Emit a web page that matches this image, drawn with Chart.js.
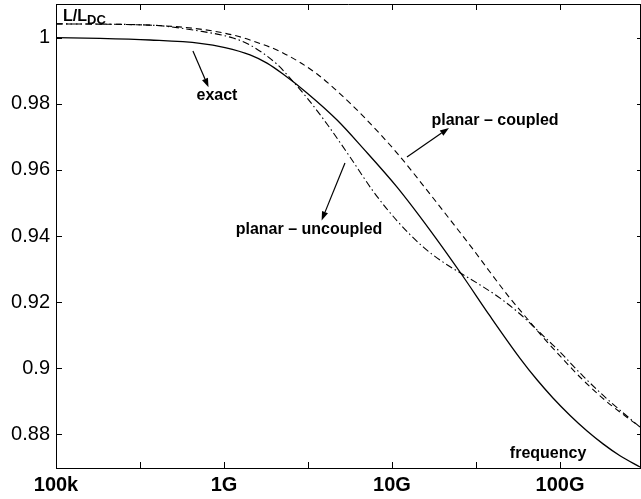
<!DOCTYPE html>
<html lang="en">
<head>
    <meta charset="UTF-8">
    <title>L/LDC vs frequency</title>
    <script src="https://cdn.jsdelivr.net/npm/chart.js"></script>
    <style>
        body { margin: 0; background: #fff; }
        .chart-container { width: 641px; height: 499px; }
    </style>
</head>
<body>
    <div class="chart-container">
        <canvas id="inductanceChart"></canvas>
    </div>

    <script>
        // x values are decades (log10 of frequency position on the axis)
        const xTicks = [8, 8.5, 9, 9.5, 10, 10.5, 11];
        const xTickLabels = { 8: '100k', 9: '1G', 10: '10G', 11: '100G' };
        const yTicks = [0.88, 0.9, 0.92, 0.94, 0.96, 0.98, 1];

        const exactX = [8.0, 8.262, 8.56, 8.857, 9.006, 9.155, 9.256, 9.351, 9.494, 9.673, 9.827, 10.03, 10.226, 10.417, 10.583, 10.762, 10.863, 10.958, 11.06, 11.161, 11.256, 11.357, 11.476];
        const exactY = [1.0, 0.9998, 0.9993, 0.9983, 0.9970, 0.9948, 0.9923, 0.9890, 0.9833, 0.9751, 0.9666, 0.9548, 0.9418, 0.9282, 0.9158, 0.9030, 0.8965, 0.8910, 0.8857, 0.8810, 0.8771, 0.8735, 0.8701];

        const coupledX = [8.0, 8.56, 8.857, 9.054, 9.155, 9.351, 9.554, 9.75, 9.839, 10.03, 10.226, 10.357, 10.476, 10.583, 10.702, 10.821, 10.881, 11.0, 11.137, 11.28, 11.476];
        const coupledY = [1.0042, 1.0038, 1.0026, 1.0008, 0.9993, 0.9954, 0.9890, 0.9802, 0.9757, 0.9651, 0.9527, 0.9442, 0.9364, 0.9291, 0.9212, 0.9140, 0.9104, 0.9037, 0.8964, 0.8898, 0.8822];

        const uncoupledX = [8.0, 8.56, 8.857, 9.054, 9.155, 9.315, 9.393, 9.494, 9.613, 9.75, 9.887, 10.03, 10.185, 10.304, 10.417, 10.524, 10.643, 10.762, 10.863, 10.958, 11.0, 11.137, 11.28, 11.476];
        const uncoupledY = [1.0042, 1.0038, 1.0020, 0.9999, 0.9978, 0.9920, 0.9878, 0.9818, 0.9739, 0.9639, 0.9536, 0.9446, 0.9367, 0.9321, 0.9285, 0.9252, 0.9212, 0.9164, 0.9116, 0.9070, 0.9049, 0.8976, 0.8907, 0.8822];

        const toPoints = (xs, ys) => xs.map((x, i) => ({ x: x, y: ys[i] }));

        // text labels and arrows, placed in data units
        const labels = [
            { text: 'exact', x: 8.958, y: 0.9812 },
            { text: 'planar \u2013 coupled', x: 10.613, y: 0.9736 },
            { text: 'planar \u2013 uncoupled', x: 9.506, y: 0.9406 },
            { text: 'frequency', x: 10.929, y: 0.8728 }
        ];
        const arrows = [
            { from: [8.815, 0.9960], to: [8.908, 0.9850] },
            { from: [10.089, 0.9639], to: [10.339, 0.9727] },
            { from: [9.720, 0.9621], to: [9.581, 0.9447] }
        ];

        const annotationPlugin = {
            id: 'annotations',
            afterDraw(chart) {
                const ctx = chart.ctx;
                const area = chart.chartArea;
                const xs = chart.scales.x;
                const ys = chart.scales.y;
                ctx.save();
                ctx.strokeStyle = '#000';
                ctx.fillStyle = '#000';
                ctx.lineWidth = 1;

                // frame: top and right edges
                ctx.beginPath();
                ctx.moveTo(area.left, area.top + 0.5);
                ctx.lineTo(area.right, area.top + 0.5);
                ctx.moveTo(area.right - 0.5, area.top);
                ctx.lineTo(area.right - 0.5, area.bottom);
                ctx.stroke();

                // inward ticks on all four sides
                ctx.beginPath();
                xTicks.forEach(v => {
                    const px = Math.round(xs.getPixelForValue(v)) + 0.5;
                    ctx.moveTo(px, area.bottom);
                    ctx.lineTo(px, area.bottom - 6);
                    ctx.moveTo(px, area.top);
                    ctx.lineTo(px, area.top + 6);
                });
                yTicks.forEach(v => {
                    const py = Math.round(ys.getPixelForValue(v)) + 0.5;
                    ctx.moveTo(area.left, py);
                    ctx.lineTo(area.left + 6, py);
                    ctx.moveTo(area.right, py);
                    ctx.lineTo(area.right - 4, py);
                });
                ctx.stroke();

                // arrows
                ctx.lineWidth = 1.2;
                arrows.forEach(a => {
                    const x1 = xs.getPixelForValue(a.from[0]);
                    const y1 = ys.getPixelForValue(a.from[1]);
                    const x2 = xs.getPixelForValue(a.to[0]);
                    const y2 = ys.getPixelForValue(a.to[1]);
                    const ang = Math.atan2(y2 - y1, x2 - x1);
                    const len = 9, half = 3.2;
                    const bx = x2 - len * Math.cos(ang);
                    const by = y2 - len * Math.sin(ang);
                    ctx.beginPath();
                    ctx.moveTo(x1, y1);
                    ctx.lineTo(bx, by);
                    ctx.stroke();
                    ctx.beginPath();
                    ctx.moveTo(x2, y2);
                    ctx.lineTo(bx + half * Math.sin(ang), by - half * Math.cos(ang));
                    ctx.lineTo(bx - half * Math.sin(ang), by + half * Math.cos(ang));
                    ctx.closePath();
                    ctx.fill();
                });

                // labels
                ctx.font = 'bold 16px "Liberation Sans", Arial, sans-serif';
                ctx.textAlign = 'center';
                ctx.textBaseline = 'alphabetic';
                labels.forEach(l => {
                    ctx.fillText(l.text, xs.getPixelForValue(l.x), ys.getPixelForValue(l.y));
                });

                // y axis title L/L_DC
                ctx.textAlign = 'left';
                const tx = xs.getPixelForValue(8.042);
                const ty = ys.getPixelForValue(1.0050);
                ctx.fillText('L/L', tx, ty);
                const w = ctx.measureText('L/L').width;
                ctx.font = 'bold 13px "Liberation Sans", Arial, sans-serif';
                ctx.fillText('DC', tx + w, ty + 3);
                ctx.restore();
            }
        };

        new Chart(document.getElementById('inductanceChart'), {
            type: 'line',
            data: {
                datasets: [
                    {
                        label: 'exact',
                        data: toPoints(exactX, exactY),
                        borderColor: '#000',
                        borderWidth: 1.3,
                        pointRadius: 0,
                        cubicInterpolationMode: 'monotone',
                        fill: false
                    },
                    {
                        label: 'planar - coupled',
                        data: toPoints(coupledX, coupledY),
                        borderColor: '#000',
                        borderWidth: 1.1,
                        borderDash: [6, 4],
                        pointRadius: 0,
                        cubicInterpolationMode: 'monotone',
                        fill: false
                    },
                    {
                        label: 'planar - uncoupled',
                        data: toPoints(uncoupledX, uncoupledY),
                        borderColor: '#000',
                        borderWidth: 1.1,
                        borderDash: [7, 3, 1.5, 3],
                        pointRadius: 0,
                        cubicInterpolationMode: 'monotone',
                        fill: false
                    }
                ]
            },
            options: {
                responsive: true,
                maintainAspectRatio: false,
                animation: false,
                layout: { padding: { top: 4, right: 0, left: 0, bottom: 0 } },
                plugins: {
                    legend: { display: false },
                    tooltip: { enabled: false }
                },
                scales: {
                    x: {
                        type: 'linear',
                        min: 8,
                        max: 11.482,
                        afterBuildTicks: scale => { scale.ticks = xTicks.map(v => ({ value: v })); },
                        afterFit: scale => {
                            scale.height = 31;
                            scale.paddingLeft = 0;
                            scale.paddingRight = 0;
                        },
                        grid: { display: false, drawTicks: false },
                        border: { display: true, color: '#000', width: 1 },
                        ticks: {
                            padding: 5,
                            maxRotation: 0,
                            autoSkip: false,
                            color: '#000',
                            font: { family: '"Liberation Sans", Arial, sans-serif', size: 20, weight: 'bold' },
                            callback: v => xTickLabels[v] || ''
                        }
                    },
                    y: {
                        min: 0.8698,
                        max: 1.0102,
                        afterBuildTicks: scale => { scale.ticks = yTicks.map(v => ({ value: v })); },
                        afterFit: scale => {
                            scale.width = 56;
                            scale.paddingTop = 0;
                            scale.paddingBottom = 0;
                        },
                        grid: { display: false, drawTicks: false },
                        border: { display: true, color: '#000', width: 1 },
                        ticks: {
                            padding: 6,
                            color: '#000',
                            font: { family: '"Liberation Sans", Arial, sans-serif', size: 20 },
                            callback: v => String(+Number(v).toFixed(2))
                        }
                    }
                }
            },
            plugins: [annotationPlugin]
        });
    </script>
</body>
</html>
